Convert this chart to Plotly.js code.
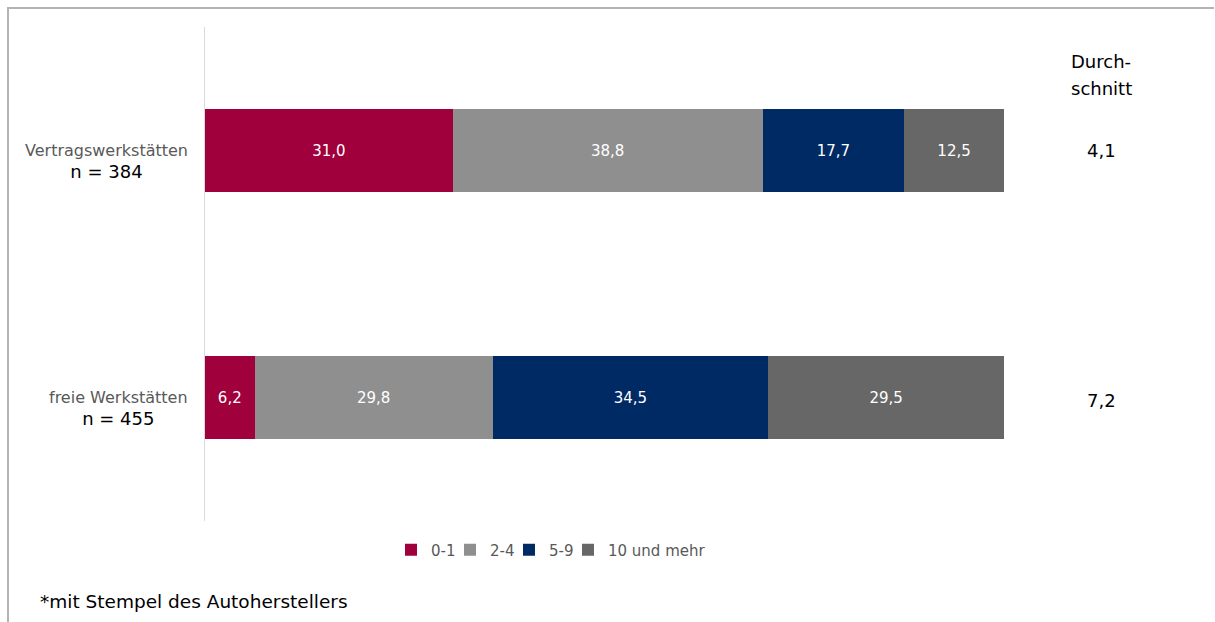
<!DOCTYPE html>
<html><head><meta charset="utf-8">
<script src="https://cdn.plot.ly/plotly-3.0.1.min.js"></script>
<style>html,body{margin:0;padding:0;background:#fff;}#chart{width:1215px;height:622px;}
.legend .scrollbox, .legend g {clip-path: none !important;}
</style>
</head><body><div id="chart"></div>
<script>
var categories = ["Vertragswerkstätten", "freie Werkstätten"];
var sampleSizes = ["n = 384", "n = 455"];
var averages = ["4,1", "7,2"];
var seriesNames = ["0-1", "2-4", "5-9", "10 und mehr"];
var s01 = [31.0, 6.2];
var s24 = [38.8, 29.8];
var s59 = [17.7, 34.5];
var s10 = [12.5, 29.5];
var colors = ["#A0003C", "#8F8F8F", "#002A64", "#676767"];

var FONT = "'DejaVu Sans', sans-serif";
var seriesVals = [s01, s24, s59, s10];
var traces = seriesVals.map(function(vals, i){
  return {
    type: "bar", orientation: "h", name: seriesNames[i],
    y: categories, x: vals,
    marker: {color: colors[i]},
    width: 0.335,
    text: vals.map(function(v){ return v.toFixed(1).replace(".", ","); }),
    textposition: "inside", insidetextanchor: "middle",
    textfont: {color: "#FFFFFF", size: 15, family: FONT},
    hoverinfo: "skip"
  };
});

var L = 205, R = 1004, T = 27, B = 521;
function px(x){ return (x - L) / (R - L); }
function py(y){ return (B - y) / (B - T); }

var annotations = [];
categories.forEach(function(c, i){
  annotations.push({xref: "paper", yref: "y", x: px(190), y: c, xanchor: "right", yanchor: "middle", yshift: -11,
    align: "center", showarrow: false,
    text: '<span style="font-size:16px;color:#595959">' + c + '</span><br><span style="font-size:18px;color:#000000">' + sampleSizes[i] + '</span>',
    font: {size: 17, color: "#000000", family: FONT}});
  annotations.push({xref: "paper", yref: "y", x: px(1101), y: c, xanchor: "center", yanchor: "middle", yshift: i === 1 ? -3 : 0,
    text: averages[i], showarrow: false, font: {size: 18, color: "#000000", family: FONT}});
});
annotations.push({xref: "paper", yref: "paper", x: px(1101), y: py(62), xanchor: "center", yanchor: "middle",
  text: "Durch-", showarrow: false, font: {size: 18, color: "#000000", family: FONT}});
annotations.push({xref: "paper", yref: "paper", x: px(1101), y: py(89), xanchor: "center", yanchor: "middle",
  text: "schnitt", showarrow: false, font: {size: 18, color: "#000000", family: FONT}});
annotations.push({xref: "paper", yref: "paper", x: px(38), y: py(601), xanchor: "left", yanchor: "middle",
  text: "*mit Stempel des Autoherstellers", showarrow: false, font: {size: 18.5, color: "#000000", family: FONT}});

var layout = {
  width: 1215, height: 622,
  margin: {l: L, r: 1215 - R, t: T, b: 622 - B, pad: 0},
  paper_bgcolor: "#FFFFFF", plot_bgcolor: "#FFFFFF",
  barmode: "stack",
  showlegend: true,
  legend: {orientation: "h", x: px(391), xanchor: "left", y: py(550), yanchor: "middle",
    bgcolor: "rgba(0,0,0,0)",
    font: {size: 15, color: "#595959", family: FONT}, itemwidth: 30, traceorder: "normal",
    entrywidth: 14, entrywidthmode: "pixels"},
  xaxis: {range: [0, 100], showgrid: false, zeroline: false, showticklabels: false, showline: false, fixedrange: true},
  yaxis: {autorange: false, range: [1.5, -0.5], showgrid: false, zeroline: false, showticklabels: false,
    showline: true, linecolor: "#D9D9D9", linewidth: 1, ticks: "", fixedrange: true},
  annotations: annotations,
  shapes: [
    {type: "line", xref: "paper", yref: "paper", x0: px(8), x1: px(8), y0: py(7), y1: py(622), line: {color: "#B3B3B3", width: 2}},
    {type: "line", xref: "paper", yref: "paper", x0: px(7), x1: px(1214), y0: py(8), y1: py(8), line: {color: "#B3B3B3", width: 2}}
  ]
};

Plotly.newPlot("chart", traces, layout, {displayModeBar: false, staticPlot: true});
</script></body></html>
